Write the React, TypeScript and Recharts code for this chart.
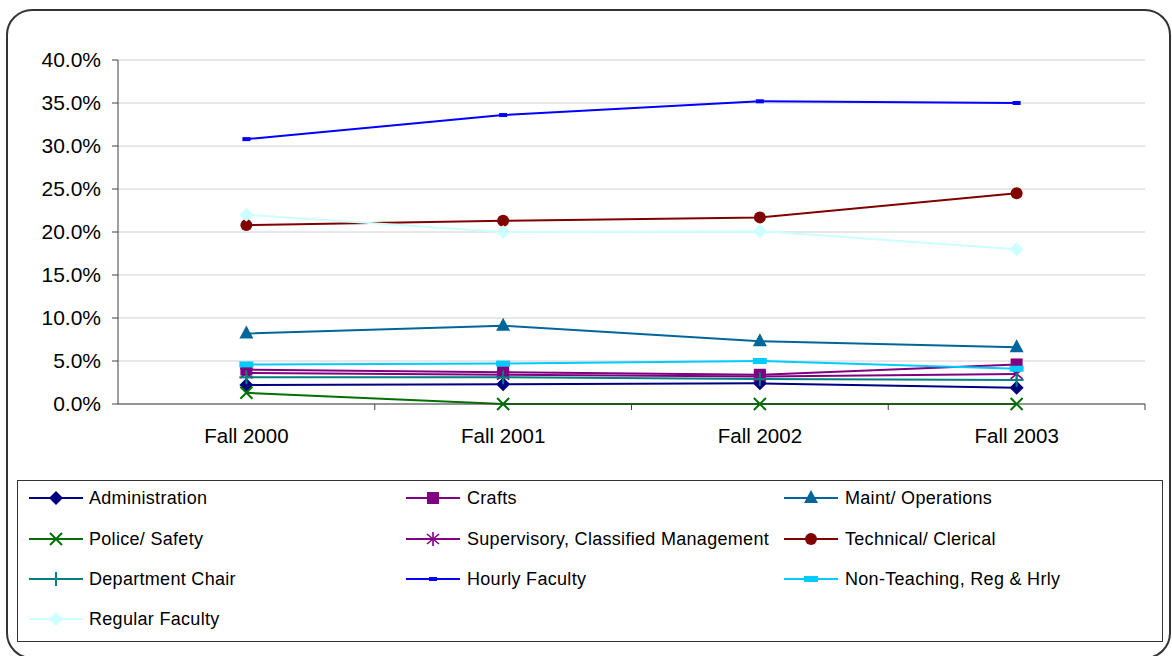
import React from 'react';
import { LineChart, Line, XAxis, YAxis, CartesianGrid } from 'recharts';

const categories = ['Fall 2000', 'Fall 2001', 'Fall 2002', 'Fall 2003'];
const yTicks = [0, 5, 10, 15, 20, 25, 30, 35, 40];

const administration = [2.2, 2.3, 2.4, 1.9];
const crafts = [4.0, 3.7, 3.4, 4.6];
const maintOperations = [8.2, 9.1, 7.3, 6.6];
const policeSafety = [1.3, 0, 0, 0];
const supervisory = [3.6, 3.4, 3.2, 3.5];
const technicalClerical = [20.8, 21.3, 21.7, 24.5];
const departmentChair = [3.1, 3.1, 2.9, 2.8];
const hourlyFaculty = [30.8, 33.6, 35.2, 35.0];
const nonTeaching = [4.6, 4.7, 5.0, 4.1];
const regularFaculty = [22.0, 20.0, 20.1, 18.0];

type Shape = 'diamond' | 'square' | 'triangle' | 'x' | 'star' | 'circle' | 'plus' | 'dash' | 'bar';

const series: { key: string; name: string; color: string; shape: Shape; values: number[] }[] = [
  { key: 'admin', name: 'Administration', color: '#000080', shape: 'diamond', values: administration },
  { key: 'crafts', name: 'Crafts', color: '#800080', shape: 'square', values: crafts },
  { key: 'maint', name: 'Maint/ Operations', color: '#006699', shape: 'triangle', values: maintOperations },
  { key: 'police', name: 'Police/ Safety', color: '#007000', shape: 'x', values: policeSafety },
  { key: 'super', name: 'Supervisory, Classified Management', color: '#800080', shape: 'star', values: supervisory },
  { key: 'tech', name: 'Technical/ Clerical', color: '#800000', shape: 'circle', values: technicalClerical },
  { key: 'chair', name: 'Department Chair', color: '#008080', shape: 'plus', values: departmentChair },
  { key: 'hourly', name: 'Hourly Faculty', color: '#0000FF', shape: 'dash', values: hourlyFaculty },
  { key: 'nonteach', name: 'Non-Teaching, Reg & Hrly', color: '#00CCFF', shape: 'bar', values: nonTeaching },
  { key: 'regular', name: 'Regular Faculty', color: '#CCFFFF', shape: 'diamond', values: regularFaculty },
];

const data = categories.map((c, i) => {
  const row: Record<string, string | number> = { category: c };
  series.forEach((s) => {
    row[s.key] = s.values[i];
  });
  return row;
});

function Marker({ shape, color, cx, cy }: { shape: Shape; color: string; cx: number; cy: number }) {
  switch (shape) {
    case 'diamond':
      return <polygon points={`${cx},${cy - 7} ${cx + 7},${cy} ${cx},${cy + 7} ${cx - 7},${cy}`} fill={color} />;
    case 'square':
      return <rect x={cx - 6} y={cy - 6} width={12} height={12} fill={color} />;
    case 'triangle':
      return <polygon points={`${cx},${cy - 8} ${cx + 7},${cy + 5} ${cx - 7},${cy + 5}`} fill={color} />;
    case 'x':
      return (
        <g stroke={color} strokeWidth={2}>
          <line x1={cx - 6} y1={cy - 6} x2={cx + 6} y2={cy + 6} />
          <line x1={cx - 6} y1={cy + 6} x2={cx + 6} y2={cy - 6} />
        </g>
      );
    case 'star':
      return (
        <g stroke={color} strokeWidth={1.6}>
          <line x1={cx} y1={cy - 7} x2={cx} y2={cy + 7} />
          <line x1={cx - 6} y1={cy - 5} x2={cx + 6} y2={cy + 5} />
          <line x1={cx - 6} y1={cy + 5} x2={cx + 6} y2={cy - 5} />
        </g>
      );
    case 'circle':
      return <circle cx={cx} cy={cy} r={6} fill={color} />;
    case 'plus':
      return (
        <g stroke={color} strokeWidth={2}>
          <line x1={cx} y1={cy - 7} x2={cx} y2={cy + 7} />
          <line x1={cx - 7} y1={cy} x2={cx + 7} y2={cy} />
        </g>
      );
    case 'dash':
      return <rect x={cx - 4} y={cy - 2} width={8} height={4} fill={color} />;
    case 'bar':
      return <rect x={cx - 7} y={cy - 3} width={14} height={6} fill={color} />;
    default:
      return null;
  }
}

const XTick = (props: any) => {
  const { x, y, payload } = props;
  const off = payload.offset || 0;
  return (
    <g>
      <line x1={x + off} x2={x + off} y1={y} y2={y + 6} stroke="#404040" strokeWidth={1} />
      <text x={x} y={y + 39} textAnchor="middle" fontSize={20.5} fill="#000">
        {payload.value}
      </text>
    </g>
  );
};

const legendCols = [
  { lineX: 29, textX: 89 },
  { lineX: 406, textX: 467 },
  { lineX: 784, textX: 845 },
];
const legendRows = [498, 539, 579, 619];

export default function App() {
  return (
    <div
      style={{
        position: 'absolute',
        left: 0,
        top: 0,
        width: 1172,
        height: 656,
        background: '#fff',
        overflow: 'hidden',
        fontFamily: '"Liberation Sans", Arial, sans-serif',
      }}
    >
      <div
        style={{
          position: 'absolute',
          left: 6,
          top: 9,
          width: 1165,
          height: 650,
          border: '2px solid #333',
          borderRadius: 26,
          boxSizing: 'border-box',
        }}
      />
      <div style={{ position: 'absolute', left: 0, top: 0 }}>
        <LineChart
          width={1172}
          height={656}
          data={data}
          margin={{ top: 60, right: 27, bottom: 212, left: 0 }}
        >
          <CartesianGrid vertical={false} stroke="#d0d0d0" strokeWidth={1} />
          <XAxis
            dataKey="category"
            scale="band"
            tickLine={false}
            tickSize={0}
            tickMargin={0}
            height={40}
            interval={0}
            axisLine={{ stroke: '#404040', strokeWidth: 1 }}
            tick={<XTick />}
          />
          <YAxis
            domain={[0, 40]}
            ticks={yTicks}
            width={118}
            interval={0}
            tickSize={6}
            tickMargin={11}
            tickLine={{ stroke: '#404040' }}
            axisLine={{ stroke: '#404040', strokeWidth: 1 }}
            tick={{ fontSize: 21, fill: '#000' }}
            tickFormatter={(v: number) => `${v.toFixed(1)}%`}
          />
          {series.map((s) => (
            <Line
              key={s.key}
              dataKey={s.key}
              name={s.name}
              stroke={s.color}
              strokeWidth={2}
              isAnimationActive={false}
              dot={(p: any) => (
                <g key={`${s.key}-${p.index}`}>
                  <Marker shape={s.shape} color={s.color} cx={p.cx} cy={p.cy} />
                </g>
              )}
              activeDot={false}
            />
          ))}
        </LineChart>
      </div>
      <div
        style={{
          position: 'absolute',
          left: 17,
          top: 480,
          width: 1146,
          height: 162,
          border: '1px solid #333',
          boxSizing: 'border-box',
        }}
      />
      {series.map((s, i) => {
        const col = legendCols[i % 3];
        const rowY = legendRows[Math.floor(i / 3)];
        return (
          <React.Fragment key={s.key}>
            <svg
              style={{ position: 'absolute', left: col.lineX, top: rowY - 10 }}
              width={56}
              height={20}
            >
              <line x1={0} x2={54} y1={10} y2={10} stroke={s.color} strokeWidth={2} />
              <Marker shape={s.shape} color={s.color} cx={27} cy={10} />
            </svg>
            <div
              style={{
                position: 'absolute',
                left: col.textX,
                top: rowY - 12,
                height: 24,
                lineHeight: '24px',
                fontSize: 18,
                letterSpacing: 0.3,
                color: '#000',
                whiteSpace: 'nowrap',
              }}
            >
              {s.name}
            </div>
          </React.Fragment>
        );
      })}
    </div>
  );
}
